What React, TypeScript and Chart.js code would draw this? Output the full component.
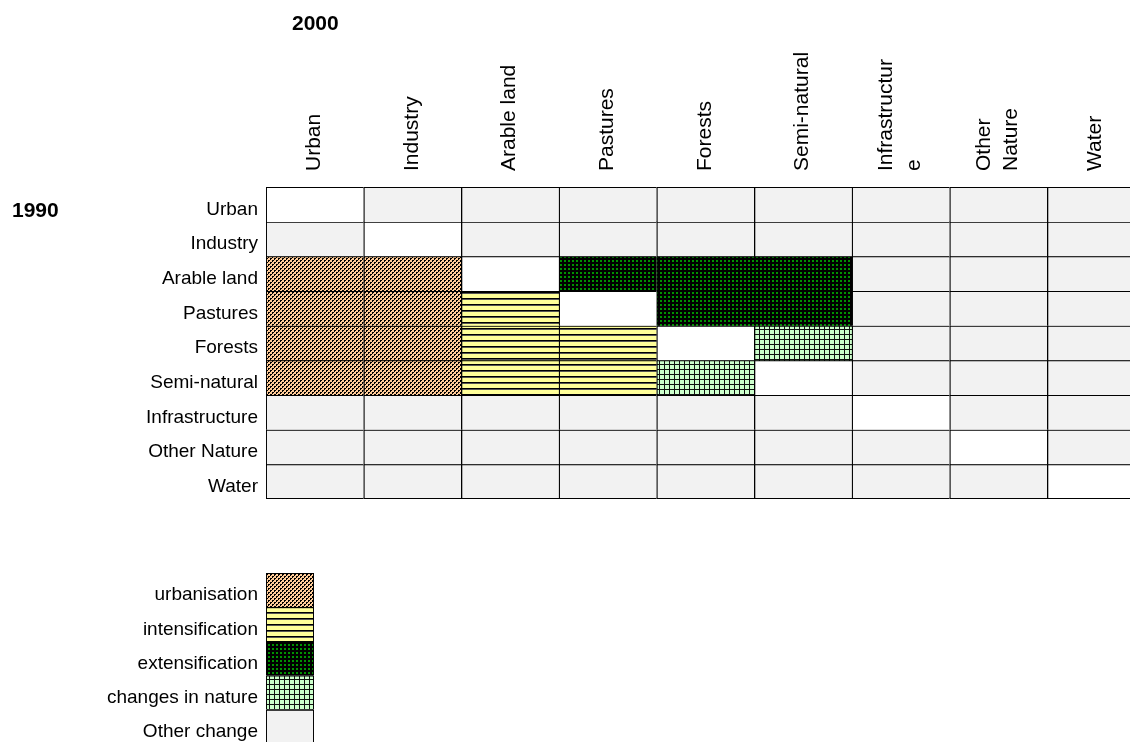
import React, { useEffect, useRef } from "react";
import { Chart, registerables } from "chart.js";
Chart.register(...registerables);

const rowLabels = ["Urban", "Industry", "Arable land", "Pastures", "Forests", "Semi-natural", "Infrastructure", "Other Nature", "Water"];
const colLabels = [["Urban"], ["Industry"], ["Arable land"], ["Pastures"], ["Forests"], ["Semi-natural"], ["Infrastructur", "e"], ["Other", "Nature"], ["Water"]];
// N = no change, U = urbanisation, I = intensification, E = extensification, C = changes in nature, O = other change
const changeMatrix = [
  "NOOOOOOOO",
  "ONOOOOOOO",
  "UUNEEEOOO",
  "UUINEEOOO",
  "UUIINCOOO",
  "UUIICNOOO",
  "OOOOOONOO",
  "OOOOOOONO",
  "OOOOOOOON",
];
const legendLabels = ["urbanisation", "intensification", "extensification", "changes in nature", "Other change"];
const legendCodes = ["U", "I", "E", "C", "O"];

const FONT = "Arial, 'Liberation Sans', sans-serif";
const LINE = 1.3;

function makeTile(w: number, h: number, draw: (c: CanvasRenderingContext2D) => void) {
  const t = document.createElement("canvas");
  t.width = w;
  t.height = h;
  const c = t.getContext("2d")!;
  draw(c);
  const ctx = document.createElement("canvas").getContext("2d")!;
  return ctx.createPattern(t, "repeat")!;
}

function makeFills(): Record<string, any> {
  const urban = makeTile(4, 4, (c) => {
    c.fillStyle = "#ffcc99";
    c.fillRect(0, 0, 4, 4);
    c.fillStyle = "#000";
    const pts = [[0, 0], [1, 0], [0, 1], [2, 2], [3, 2], [2, 3]];
    pts.forEach(([x, y]) => c.fillRect(x, y, 1, 1));
  });
  const inten = makeTile(4, 6, (c) => {
    c.fillStyle = "#ffff99";
    c.fillRect(0, 0, 4, 6);
    c.fillStyle = "#000";
    c.fillRect(0, 4, 4, 1);
    c.fillStyle = "#555";
    c.fillRect(0, 5, 4, 1);
  });
  const exten = makeTile(4, 4, (c) => {
    c.fillStyle = "#000";
    c.fillRect(0, 0, 4, 4);
    c.fillStyle = "#009000";
    c.fillRect(0, 0, 2, 2);
  });
  const nature = makeTile(5, 5, (c) => {
    c.fillStyle = "#ccffcc";
    c.fillRect(0, 0, 5, 5);
    c.fillStyle = "#111";
    c.fillRect(4, 0, 1, 5);
    c.fillRect(0, 4, 5, 1);
  });
  return { N: "#ffffff", O: "#f2f2f2", U: urban, I: inten, E: exten, C: nature };
}

// centre multi-line rotated column headers on their column
const headerPlugin = {
  id: "centreHeaders",
  beforeDraw(chart: any) {
    const s = chart.scales.x;
    if (!s || !s.getLabelItems) return;
    s.getLabelItems().forEach((it: any) => {
      const n = Array.isArray(it.label) ? it.label.length : 1;
      it.textOffset = (-(n - 1) / 2) * it.font.lineHeight;
      it.options.textBaseline = "middle";
    });
  },
};

function fixPadding(s: any) {
  s.paddingTop = 0;
  s.paddingBottom = 0;
}

export default function App() {
  const mainRef = useRef<HTMLCanvasElement>(null);
  const legRef = useRef<HTMLCanvasElement>(null);

  useEffect(() => {
    const fills = makeFills();
    const rowFont = { family: FONT, size: 19 };
    const headFont = { family: FONT, size: 21, lineHeight: 1.3 };
    const main = new Chart(mainRef.current!, {
      type: "bar",
      data: {
        labels: colLabels as any,
        datasets: rowLabels.map((_, r) => ({
          label: rowLabels[r],
          data: colLabels.map(() => [r, r + 1]) as any,
          backgroundColor: changeMatrix[r].split("").map((c) => fills[c]),
          borderColor: "#000",
          borderWidth: { top: LINE, left: LINE, right: 0, bottom: r === rowLabels.length - 1 ? LINE : 0 },
          borderSkipped: false,
          grouped: false,
          barPercentage: 1,
          categoryPercentage: 1,
          yAxisID: "y",
        })),
      },
      options: {
        responsive: false,
        animation: false,
        events: [],
        layout: { padding: { top: 0, left: 0, right: 0, bottom: 1 } },
        plugins: { legend: { display: false }, tooltip: { enabled: false }, title: { display: false } },
        scales: {
          x: {
            type: "category",
            position: "top",
            grid: { display: false, drawTicks: false },
            border: { display: false },
            ticks: { autoSkip: false, maxRotation: 90, minRotation: 90, color: "#000", font: headFont, padding: 16, labelOffset: 13 },
            afterFit: (s: any) => { s.height = 187; s.paddingLeft = 0; s.paddingRight = 0; },
          },
          y: { type: "linear", reverse: true, min: 0, max: 9, display: false },
          yl: {
            type: "category",
            axis: "y",
            position: "left",
            labels: rowLabels,
            offset: true,
            grid: { display: false, drawTicks: false },
            border: { display: false },
            ticks: { autoSkip: false, color: "#000", font: rowFont, padding: 8, labelOffset: 5 },
            afterFit: (s: any) => { s.width = 266; fixPadding(s); },
          },
        } as any,
      },
      plugins: [headerPlugin],
    });

    const leg = new Chart(legRef.current!, {
      type: "bar",
      data: {
        labels: legendLabels,
        datasets: [
          {
            data: legendCodes.map(() => [0, 1]) as any,
            backgroundColor: legendCodes.map((c) => fills[c]),
            borderColor: "#000",
            borderWidth: legendCodes.map((_, i) => ({ top: LINE, left: LINE, right: LINE, bottom: i === legendCodes.length - 1 ? LINE : 0 })) as any,
            borderSkipped: false,
            barPercentage: 1,
            categoryPercentage: 1,
          },
        ],
      },
      options: {
        indexAxis: "y",
        responsive: false,
        animation: false,
        events: [],
        layout: { padding: { top: 13, left: 0, right: 1, bottom: 6 } },
        plugins: { legend: { display: false }, tooltip: { enabled: false } },
        scales: {
          x: { type: "linear", min: 0, max: 1, display: false },
          y: {
            type: "category",
            grid: { display: false, drawTicks: false },
            border: { display: false },
            ticks: { autoSkip: false, color: "#000", font: rowFont, padding: 8, labelOffset: 5 },
            afterFit: (s: any) => { s.width = 266; fixPadding(s); },
          },
        } as any,
      },
    });

    return () => {
      main.destroy();
      leg.destroy();
    };
  }, []);

  const titleStyle: React.CSSProperties = {
    position: "absolute",
    fontFamily: FONT,
    fontWeight: "bold",
    fontSize: 21,
    lineHeight: "24px",
    color: "#000",
  };

  return (
    <div style={{ position: "fixed", left: 0, top: 0, right: 0, bottom: 0, overflow: "hidden", background: "#fff" }}>
      <canvas ref={mainRef} width={1145} height={500} style={{ position: "absolute", left: 0, top: 0 }} />
      <canvas ref={legRef} width={315} height={190} style={{ position: "absolute", left: 0, top: 560 }} />
      <div style={{ ...titleStyle, left: 292, top: 11 }}>2000</div>
      <div style={{ ...titleStyle, left: 12, top: 198 }}>1990</div>
    </div>
  );
}
